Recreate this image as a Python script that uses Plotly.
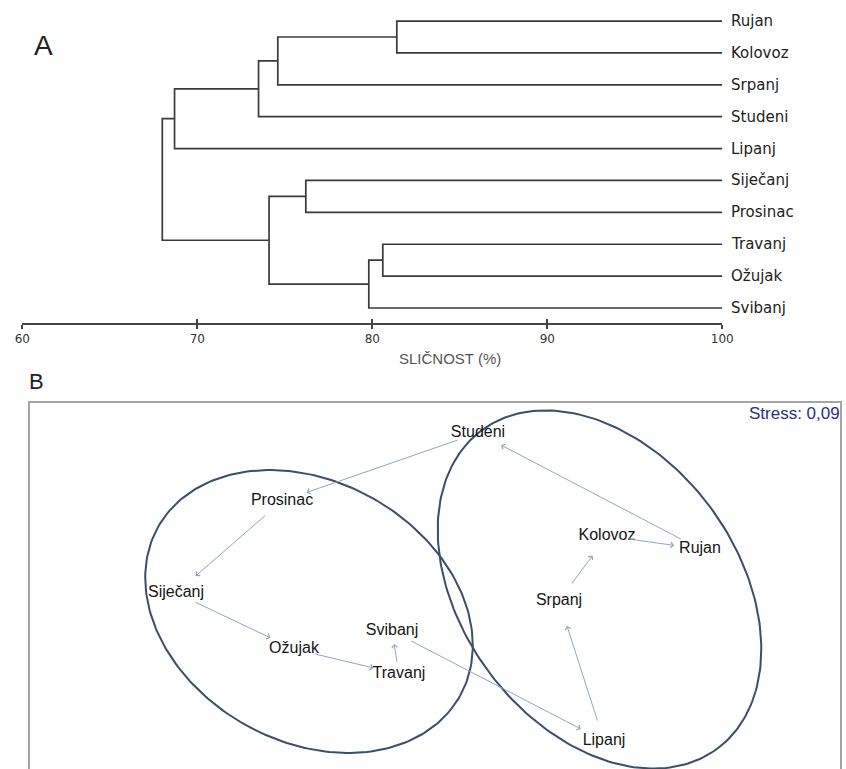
"""Dendrogram (A) and nMDS ordination (B) of monthly samples."""
import math

import numpy as np
import plotly.graph_objects as go

# ---- A: cluster dendrogram, similarity (%) ----
leaves = ["Rujan", "Kolovoz", "Srpanj", "Studeni", "Lipanj",
          "Siječanj", "Prosinac", "Travanj", "Ožujak", "Svibanj"]
# each merge joins two children (leaf name or index of an earlier merge)
merge_left = ["Rujan", 0, 1, 2, "Siječanj", "Travanj", 5, 4, 3]
merge_right = ["Kolovoz", "Srpanj", "Studeni", "Lipanj", "Prosinac",
               "Ožujak", "Svibanj", 6, 7]
merge_sim = [81.4, 74.6, 73.5, 68.7, 76.2, 80.6, 79.8, 74.1, 68.0]
sim_ticks = [60, 70, 80, 90, 100]

# ---- B: nMDS ordination ----
months = ["Studeni", "Prosinac", "Siječanj", "Ožujak", "Travanj",
          "Svibanj", "Lipanj", "Srpanj", "Kolovoz", "Rujan"]
mds_x = [0.43, -1.53, -2.59, -1.41, -0.36, -0.43, 1.69, 1.24, 1.72, 2.65]
mds_y = [1.52, 0.84, -0.08, -0.64, -0.89, -0.46, -1.56, -0.16, 0.49, 0.36]
stress = 0.09

# groups drawn as ellipses: centre, semi-axes, tilt (deg)
group_cx = [-1.26, 1.645]
group_cy = [-0.265, -0.045]
group_a = [1.73, 1.98]
group_b = [1.30, 1.38]
group_angle = [-29.2, -53.5]

W, H = 846, 769


def px(x):
    return x / W


def py(y):
    return 1 - y / H


# dendrogram geometry
leaf_y = {name: len(leaves) - i for i, name in enumerate(leaves)}
node_pos = []


def child_pos(c):
    if isinstance(c, str):
        return 100.0, leaf_y[c]
    return node_pos[c]


dx, dy = [], []
for left, right, sim in zip(merge_left, merge_right, merge_sim):
    xl, yl = child_pos(left)
    xr, yr = child_pos(right)
    dx += [xl, sim, sim, xr, None]
    dy += [yl, yl, yr, yr, None]
    node_pos.append((sim, (yl + yr) / 2))

fig = go.Figure()

fig.add_trace(go.Scatter(
    x=dx, y=dy, mode="lines",
    line=dict(color="#3a3a3a", width=1.7),
    xaxis="x", yaxis="y", hoverinfo="skip",
))
# carrier for the second tick axis (ticks above the line)
fig.add_trace(go.Scatter(
    x=[sim_ticks[0]], y=[1], mode="markers", marker=dict(size=0, opacity=0),
    xaxis="x3", yaxis="y", hoverinfo="skip",
))

# ellipses around the two groups
for cx, cy, a, b, ang in zip(group_cx, group_cy, group_a, group_b, group_angle):
    t = np.linspace(0, 2 * np.pi, 241)
    th = np.radians(ang)
    ex = cx + a * np.cos(t) * np.cos(th) - b * np.sin(t) * np.sin(th)
    ey = cy + a * np.cos(t) * np.sin(th) + b * np.sin(t) * np.cos(th)
    fig.add_trace(go.Scatter(
        x=ex, y=ey, mode="lines",
        line=dict(color="#3b4f68", width=2),
        xaxis="x2", yaxis="y2", hoverinfo="skip",
    ))

fig.add_trace(go.Scatter(
    x=mds_x, y=mds_y, mode="text", text=months,
    textposition="middle center",
    textfont=dict(family="Liberation Sans, Arial", size=16, color="#151515"),
    xaxis="x2", yaxis="y2", cliponaxis=False, hoverinfo="skip",
))

annotations = []

# trajectory arrows between consecutive samples
b_range = 8.12
b_width = 841 - 29
unit_px = b_width / b_range
order = list(range(len(months))) + [0]
for i, j in zip(order[:-1], order[1:]):
    dist = unit_px * math.hypot(mds_x[j] - mds_x[i], mds_y[j] - mds_y[i])
    annotations.append(dict(
        x=mds_x[j], y=mds_y[j], ax=mds_x[i], ay=mds_y[i],
        xref="x2", yref="y2", axref="x2", ayref="y2",
        text="", showarrow=True,
        arrowhead=4, arrowsize=1.1, arrowwidth=1,
        arrowcolor="#93a6bd",
        standoff=min(26, 0.3 * dist), startstandoff=min(20, 0.25 * dist),
    ))

for name in leaves:
    annotations.append(dict(
        x=100, y=leaf_y[name], xref="x", yref="y",
        text=name, showarrow=False, xanchor="left", yanchor="middle",
        xshift=7,
        font=dict(family="DejaVu Sans", size=15, color="#222"),
    ))

annotations += [
    dict(x=px(450), y=py(359), xref="paper", yref="paper",
         text="SLIČNOST (%)", showarrow=False,
         xanchor="center", yanchor="middle",
         font=dict(family="Liberation Sans, Arial", size=15, color="#555")),
    dict(x=px(43), y=py(46), xref="paper", yref="paper",
         text="A", showarrow=False, xanchor="center", yanchor="middle",
         font=dict(family="Liberation Sans, Arial", size=28, color="#222")),
    dict(x=px(36), y=py(381), xref="paper", yref="paper",
         text="B", showarrow=False, xanchor="center", yanchor="middle",
         font=dict(family="Liberation Sans Narrow, Liberation Sans", size=22,
                   color="#222")),
    dict(x=px(842), y=py(413), xref="paper", yref="paper",
         text=f"Stress: {stress:.2f}".replace(".", ","), showarrow=False,
         xanchor="right", yanchor="middle",
         font=dict(family="Liberation Sans, Arial", size=17, color="#2b2f85")),
]

# frame of panel B (open at the bottom, it runs off the page)
x0, x1, ytop = px(29), px(841), py(402)
shapes = [dict(
    type="path", xref="paper", yref="paper",
    path=f"M {x0},-0.05 L {x0},{ytop} L {x1},{ytop} L {x1},-0.05",
    line=dict(color="#a5a5a5", width=2),
)]

a_domain = [px(22.3), px(722.3)]
fig.update_layout(
    width=W, height=H,
    margin=dict(l=0, r=0, t=0, b=0, autoexpand=False),
    paper_bgcolor="white", plot_bgcolor="white",
    showlegend=False,
    xaxis=dict(
        domain=a_domain, range=[60, 100], anchor="y",
        showline=True, linecolor="#444", linewidth=1.6,
        ticks="outside", ticklen=4, tickwidth=1.6, tickcolor="#444",
        tickvals=sim_ticks,
        tickfont=dict(family="DejaVu Sans", size=12, color="#333"),
        showgrid=False, zeroline=False, fixedrange=True,
    ),
    xaxis3=dict(
        domain=a_domain, range=[60, 100], anchor="y", overlaying="x",
        showline=False, ticks="inside", ticklen=4, tickwidth=1.6,
        tickcolor="#444", tickvals=sim_ticks, showticklabels=False,
        showgrid=False, zeroline=False, fixedrange=True,
    ),
    yaxis=dict(
        domain=[py(323), 1], range=[0.53, 10.66], visible=False,
        fixedrange=True,
    ),
    xaxis2=dict(
        domain=[px(29), px(841)], range=[-b_range / 2, b_range / 2],
        anchor="y2", visible=False, fixedrange=True,
    ),
    yaxis2=dict(
        domain=[0, py(402)], range=[-1.84, 1.83], anchor="x2",
        visible=False, fixedrange=True,
    ),
    annotations=annotations,
    shapes=shapes,
)

# the page's default body margin would shift the figure off the window
post = "document.body.style.margin='0';document.body.style.overflow='hidden';"
fig.write_html("out.html", post_script=post,
               config={"displayModeBar": False})
